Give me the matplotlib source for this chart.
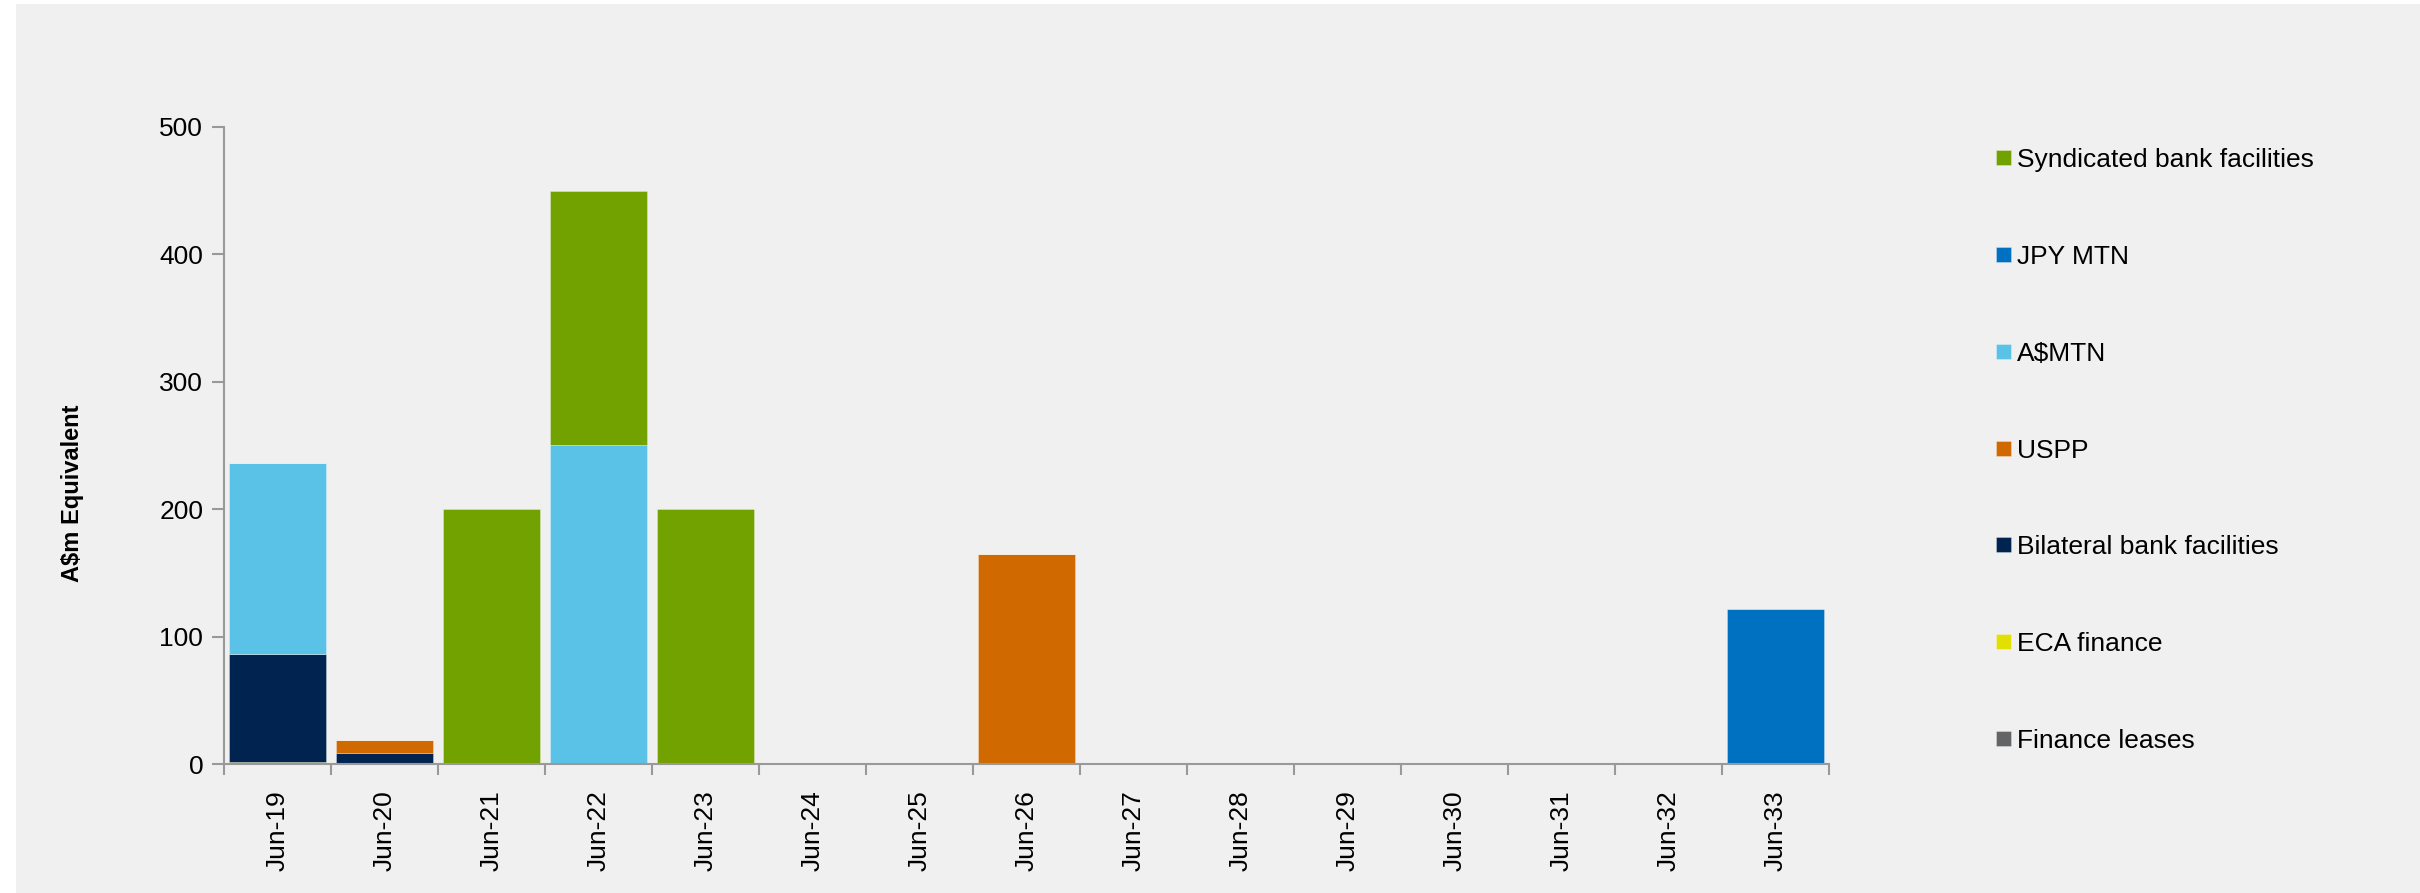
import numpy as np
import matplotlib.pyplot as plt
from matplotlib.patches import Rectangle

plt.rcParams['font.family'] = ['Liberation Sans', 'DejaVu Sans']

# data (A$m)
years = ['Jun-19', 'Jun-20', 'Jun-21', 'Jun-22', 'Jun-23', 'Jun-24', 'Jun-25', 'Jun-26',
         'Jun-27', 'Jun-28', 'Jun-29', 'Jun-30', 'Jun-31', 'Jun-32', 'Jun-33']
finance_leases = [0, 0, 0, 0, 0, 0, 0, 0, 0, 0, 0, 0, 0, 0, 0]
eca_finance    = [1.5, 0, 0, 0, 0, 0, 0, 0, 0, 0, 0, 0, 0, 0, 0]
bilateral      = [85, 9, 0, 0, 0, 0, 0, 0, 0, 0, 0, 0, 0, 0, 0]
uspp           = [0, 10, 0, 0, 0, 0, 0, 165, 0, 0, 0, 0, 0, 0, 0]
aud_mtn        = [150, 0, 0, 250, 0, 0, 0, 0, 0, 0, 0, 0, 0, 0, 0]
jpy_mtn        = [0, 0, 0, 0, 0, 0, 0, 0, 0, 0, 0, 0, 0, 0, 122]
syndicated     = [0, 0, 200, 200, 200, 0, 0, 0, 0, 0, 0, 0, 0, 0, 0]

# bottom to top stacking order
series = [
    ('Finance leases', finance_leases, '#636466'),
    ('ECA finance', eca_finance, '#E1E000'),
    ('Bilateral bank facilities', bilateral, '#002350'),
    ('USPP', uspp, '#D06900'),
    ('A$MTN', aud_mtn, '#5BC2E7'),
    ('JPY MTN', jpy_mtn, '#0070C0'),
    ('Syndicated bank facilities', syndicated, '#72A200'),
]

bg = '#f0f0f0'
fig = plt.figure(figsize=(24.2, 8.93), dpi=100, facecolor='white')
# grey panel (thin white strip on left/top in the original)
fig.patches.append(Rectangle((16 / 2420, 0), 1, 1 - 4 / 893, transform=fig.transFigure,
                             facecolor=bg, edgecolor='none', zorder=-10))

ax = fig.add_axes([224 / 2420, 1 - 764 / 893, (1829 - 224) / 2420, (764 - 127) / 893])
ax.set_facecolor(bg)

x = np.arange(len(years))
bottom = np.zeros(len(years))
handles = []
for name, vals, col in series:
    vals = np.array(vals, dtype=float)
    b = ax.bar(x, vals, width=0.91, bottom=bottom, color=col, label=name,
               edgecolor=(1, 1, 1, 0.35), linewidth=0.6)
    handles.append(b)
    bottom += vals

ax.set_xlim(-0.5, len(years) - 0.5)
ax.set_ylim(0, 500)
ax.set_yticks([0, 100, 200, 300, 400, 500])

# category labels centred, tick marks on boundaries
ax.set_xticks(x)
ax.set_xticklabels(years, rotation=90, fontsize=19)
ax.tick_params(axis='x', which='major', length=0, pad=19)
ax.set_xticks(np.arange(-0.5, len(years), 1), minor=True)
ax.tick_params(axis='x', which='minor', length=8, width=1.5, color='#999999')
ax.tick_params(axis='y', length=9, width=1.5, color='#999999', labelsize=19, pad=6)

for s in ['top', 'right']:
    ax.spines[s].set_visible(False)
for s in ['left', 'bottom']:
    ax.spines[s].set_color('#999999')
    ax.spines[s].set_linewidth(1.5)

fig.text(73 / 2420, 1 - 493 / 893, 'A$m Equivalent', rotation=90, fontsize=17,
         fontweight='bold', ha='center', va='center')

leg = fig.legend(handles[::-1], [s[0] for s in series][::-1],
                 loc='upper left', bbox_to_anchor=(1996 / 2420, 1 - 148 / 893),
                 frameon=False, fontsize=19, labelspacing=2.76,
                 handlelength=0.55, handleheight=0.5, handletextpad=0.25,
                 borderpad=0, borderaxespad=0)

fig.savefig('out.png', dpi=100, facecolor='white')
